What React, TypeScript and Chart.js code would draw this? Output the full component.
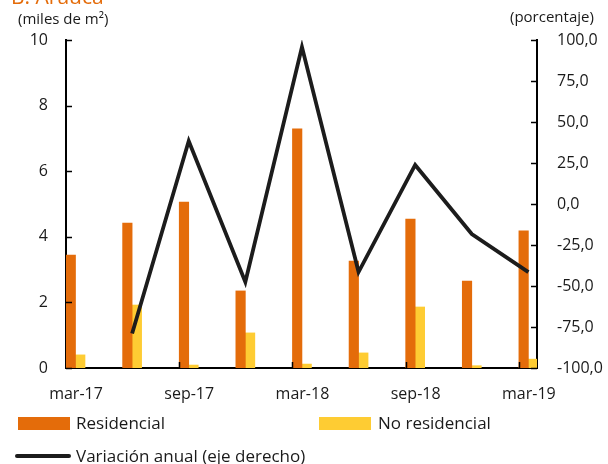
import React, { useEffect, useRef } from "react";
import { Chart, registerables } from "chart.js";

Chart.register(...registerables);

// ---- data ----
const categories = ["mar-17", "jun-17", "sep-17", "dec-17", "mar-18", "jun-18", "sep-18", "dec-18", "mar-19"];
const residencial = [3.44, 4.42, 5.06, 2.35, 7.29, 3.26, 4.54, 2.65, 4.18];
const noResidencial = [0.4, 1.92, 0.09, 1.07, 0.12, 0.46, 1.86, 0.07, 0.27];
const variacionAnual = [null, -79.0, 38.4, -47.6, 95.7, -41.5, 23.8, -18.3, -41.5];
const xLabelIndices = [0, 2, 4, 6, 8];
const leftTicks = [0, 2, 4, 6, 8, 10];
const rightTicks = [-100, -75, -50, -25, 0, 25, 50, 75, 100];

const title = "B. Arauca";
const leftUnit = "(miles de m²)";
const rightUnit = "(porcentaje)";
const seriesNames = ["Residencial", "No residencial", "Variación anual (eje derecho)"];

const ORANGE = "#E46C0A";
const YELLOW = "#FECC33";
const LINE = "#1c1c1c";
const FONT = "'Open Sans', 'Noto Sans', sans-serif";

const X_MAX = 8.32; // axis extends a bit past the last category
const SHIFT = 0.168; // bar pair sits right of the category tick

const decorPlugin = {
  id: "decor",
  afterDraw(chart: any) {
    const { ctx, chartArea } = chart;
    const sx = chart.scales.x;
    const sy = chart.scales.y;
    const sy1 = chart.scales.y1;
    ctx.save();
    ctx.strokeStyle = "#000";
    ctx.lineWidth = 1.5;
    // inner tick marks
    leftTicks.forEach((v) => {
      const p = Math.round(sy.getPixelForValue(v)) + 0.5;
      ctx.beginPath();
      ctx.moveTo(chartArea.left, p);
      ctx.lineTo(chartArea.left + 6, p);
      ctx.stroke();
    });
    rightTicks.forEach((v) => {
      const p = Math.round(sy1.getPixelForValue(v)) + 0.5;
      ctx.beginPath();
      ctx.moveTo(chartArea.right - 6, p);
      ctx.lineTo(chartArea.right, p);
      ctx.stroke();
    });
    xLabelIndices.forEach((i) => {
      if (i === 0) return;
      const p = Math.round(sx.getPixelForValue(i)) + 0.5;
      ctx.beginPath();
      ctx.moveTo(p, chartArea.bottom);
      ctx.lineTo(p, chartArea.bottom - 6);
      ctx.stroke();
    });

    // title & unit labels
    ctx.fillStyle = ORANGE;
    ctx.font = `21px ${FONT}`;
    ctx.textAlign = "left";
    ctx.textBaseline = "alphabetic";
    ctx.fillText(title, 11, 4);

    ctx.fillStyle = "#1a1a1a";
    ctx.font = `15px ${FONT}`;
    ctx.textBaseline = "middle";
    ctx.fillText(leftUnit, 18, 20);
    ctx.fillText(rightUnit, 510, 18);

    // legend
    const ds = chart.data.datasets;
    ctx.font = `17px ${FONT}`;
    ctx.fillStyle = ds[0].backgroundColor;
    ctx.fillRect(18, 417, 52, 13);
    ctx.fillStyle = "#1a1a1a";
    ctx.fillText(ds[0].label, 76, 424);
    ctx.fillStyle = ds[1].backgroundColor;
    ctx.fillRect(319, 417, 52, 13);
    ctx.fillStyle = "#1a1a1a";
    ctx.fillText(ds[1].label, 378, 424);
    ctx.strokeStyle = ds[2].borderColor;
    ctx.lineWidth = 4;
    ctx.lineCap = "round";
    ctx.beginPath();
    ctx.moveTo(17, 456);
    ctx.lineTo(69, 456);
    ctx.stroke();
    ctx.fillText(ds[2].label, 76, 457);
    ctx.restore();
  },
};

export default function App() {
  const ref = useRef<HTMLCanvasElement | null>(null);
  useEffect(() => {
    if (!ref.current) return;
    const chart = new Chart(ref.current, {
      type: "bar",
      data: {
        datasets: [
          {
            type: "bar",
            label: seriesNames[0],
            data: residencial.map((v, i) => ({ x: i, y: v })),
            backgroundColor: ORANGE,
            barThickness: 9.5,
            xAxisID: "xData",
            yAxisID: "y",
            order: 2,
          },
          {
            type: "bar",
            label: seriesNames[1],
            data: noResidencial.map((v, i) => ({ x: i, y: v })),
            backgroundColor: YELLOW,
            barThickness: 9.5,
            xAxisID: "xData",
            yAxisID: "y",
            order: 2,
          },
          {
            type: "line",
            label: seriesNames[2],
            data: variacionAnual.map((v, i) => ({ x: i, y: v })),
            borderColor: LINE,
            backgroundColor: LINE,
            borderWidth: 3.8,
            pointRadius: 0,
            tension: 0,
            xAxisID: "xData",
            yAxisID: "y1",
            order: 0,
          } as any,
        ],
      },
      options: {
        animation: false,
        responsive: false,
        devicePixelRatio: 1,
        layout: { padding: { top: 40, left: 0, right: 0, bottom: 0 } },
        plugins: { legend: { display: false }, tooltip: { enabled: false } },
        scales: {
          x: {
            type: "linear",
            position: "bottom",
            offset: false,
            min: 0,
            max: X_MAX,
            afterBuildTicks: (scale: any) => {
              scale.ticks = xLabelIndices.map((i) => ({ value: i }));
            },
            afterFit: (scale: any) => {
              scale.height = 96;
            },
            grid: { display: false, drawTicks: false, offset: false },
            border: { display: true, color: "#000", width: 2 },
            ticks: {
              autoSkip: false,
              maxRotation: 0,
              padding: 17,
              labelOffset: 10,
              color: "#1a1a1a",
              font: { family: FONT, size: 16 },
              callback: (v: any) => categories[v as number],
            },
          },
          xData: {
            type: "linear",
            display: false,
            offset: false,
            position: "bottom",
            min: -SHIFT,
            max: X_MAX - SHIFT,
            grid: { offset: false },
          },
          y: {
            position: "left",
            min: 0,
            max: 10,
            afterBuildTicks: (scale: any) => {
              scale.ticks = leftTicks.map((v) => ({ value: v }));
            },
            afterFit: (scale: any) => {
              scale.width = 66;
            },
            grid: { display: false, drawTicks: false },
            border: { display: true, color: "#000", width: 2 },
            ticks: {
              padding: 18,
              color: "#1a1a1a",
              font: { family: FONT, size: 16 },
            },
          },
          y1: {
            position: "right",
            min: -100,
            max: 100,
            afterBuildTicks: (scale: any) => {
              scale.ticks = rightTicks.map((v) => ({ value: v }));
            },
            afterFit: (scale: any) => {
              scale.width = 71;
            },
            grid: { display: false, drawTicks: false },
            border: { display: true, color: "#000", width: 2 },
            ticks: {
              padding: 20,
              color: "#1a1a1a",
              font: { family: FONT, size: 16 },
              callback: (v: any) => (v as number).toFixed(1).replace(".", ","),
            },
          },
        },
      },
      plugins: [decorPlugin],
    });
    return () => chart.destroy();
  }, []);
  return (
    <div style={{ position: "absolute", left: 0, top: 0, width: 608, height: 464, background: "#fff" }}>
      <canvas ref={ref} width={608} height={464} style={{ display: "block", width: 608, height: 464 }} />
    </div>
  );
}
